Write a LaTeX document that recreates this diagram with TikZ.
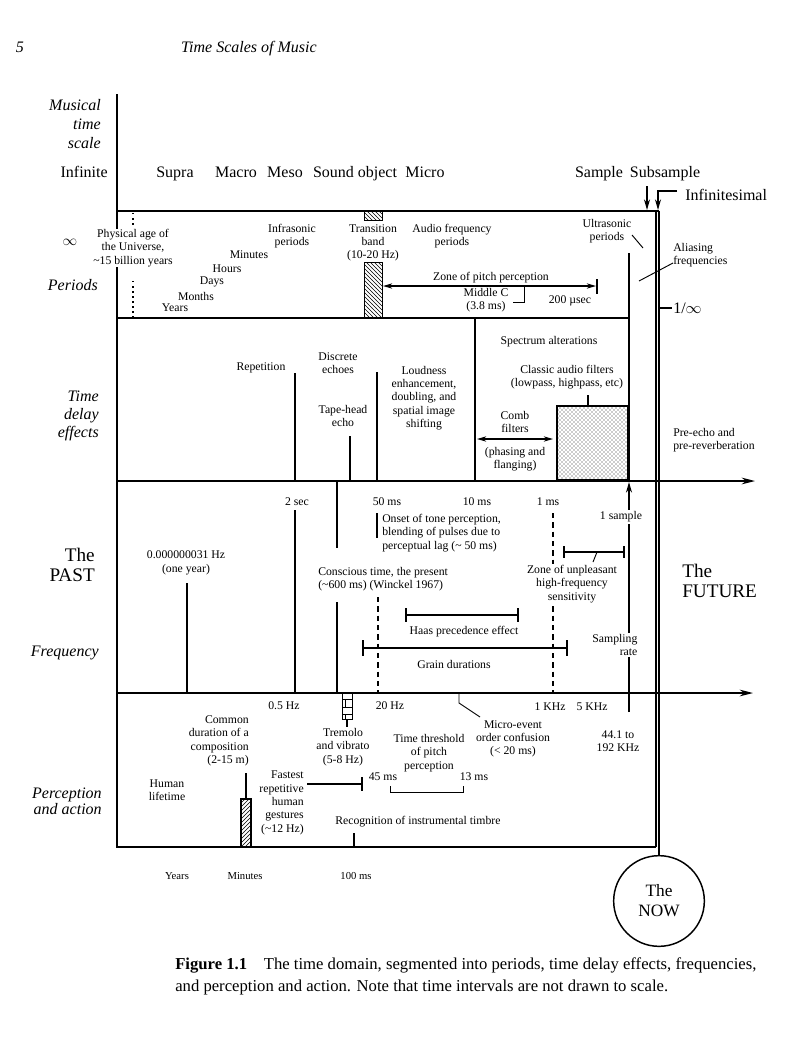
\documentclass[tikz,border=0pt]{standalone}
\usepackage{fontspec}
\setmainfont{Liberation Serif}
\usetikzlibrary{arrows.meta,patterns}
\begin{document}
\begin{tikzpicture}[x=0.75pt,y=-0.75pt,
  t/.style={font=\fontsize{8.8}{10}\selectfont, align=center, inner sep=0pt},
  tw/.style={t, fill=white, inner sep=1pt},
  head/.style={font=\fontsize{12}{14}\selectfont, inner sep=0pt},
  hb/.style={head, anchor=base},
  rowl/.style={font=\fontsize{12}{13.9}\selectfont\itshape, align=right, anchor=east, inner sep=0pt},
  bigl/.style={font=\fontsize{14.4}{15}\selectfont, inner sep=0pt},
  frame/.style={line width=1.1pt},
  mk/.style={line width=0.9pt},
  lead/.style={line width=0.7pt},
  tip/.style={-{Stealth[length=8pt,width=4.5pt]}},
  axis/.style={line width=1.1pt, -{Stealth[length=10pt,width=5pt]}},
  dsh/.style={line width=0.9pt, dash pattern=on 4pt off 3pt},
  dots/.style={line width=1.1pt, dash pattern=on 1.1pt off 2.7pt}
]
\useasboundingbox (0,0) rectangle (800,1060);
\fill[white] (0,0) rectangle (800,1060);

% ---------- header ----------
\node[hb, font=\fontsize{12}{14}\selectfont\itshape] (pg) at (20,52) {5};
\node[hb, font=\fontsize{12}{14}\selectfont\itshape] (title) at (249,52) {Time Scales of Music};

% ---------- frame ----------
\coordinate (top) at (117,94);
\coordinate (bl) at (117,847);
\draw[frame] (top) -- (bl) -- (656,847);
\draw[frame] (117,211) -- (659,211);
\draw[frame] (656,211) -- (656,847);
\draw[frame] (117,318) -- (629,318);
\draw[frame] (629,253) -- (629,480);
\draw[frame] (475,318) -- (475,480);
\draw[axis] (117,481) -- (755,481);
\draw[axis] (117,693) -- (753,693);

% ---------- musical time scale ----------
\node[rowl] (mts) at (101,124) {Musical\\time\\scale};
\node[hb, anchor=base east] (inf) at (108,177) {Infinite};
\node[hb] (supra) at (175,177) {Supra};
\node[hb] (macro) at (236,177) {Macro};
\node[hb] (meso) at (285,177) {Meso};
\node[hb] (sobj) at (355,177) {Sound object};
\node[hb] (micro) at (425,177) {Micro};
\node[hb] (sample) at (599,177) {Sample};
\node[hb] (subs) at (665,177) {Subsample};
\node[hb, anchor=base west] (infs) at (685,200) {Infinitesimal};
\coordinate (sa) at (647,186);
\coordinate (sb) at (647,210);
\draw[mk, tip] (sa) -- (sb);
\coordinate (ia) at (658,210);
\coordinate (il) at (677,191);
\draw[mk, tip] (il) -- (658,191) -- (ia);
\node[head, font=\fontsize{11}{12}\selectfont] (infty) at (70,242) {$\infty$};

% ---------- periods ----------
\node[rowl] (per) at (98,285) {Periods};
\draw[dots] (133,213) -- (133,225);
\draw[dots] (133,281) -- (133,318);
\node[t, fill=white] (phys) at (133,248) {Physical age of\\the Universe,\\\textasciitilde15 billion years};
\node[t] (infra) at (292,236) {Infrasonic\\periods};
\node[t] (minutes) at (249,255) {Minutes};
\node[t] (hours) at (227,269) {Hours};
\node[t] (days) at (212,282) {Days};
\node[t] (months) at (196,296) {Months};
\node[t] (years) at (175,308) {Years};
\draw[line width=0.6pt, pattern=north west lines] (364,211) rectangle (382,220);
\draw[line width=0.6pt, pattern=north west lines] (364,262) rectangle (382,318);
\node[t] (trans) at (373,243) {Transition\\band\\(10-20 Hz)};
\node[t] (audio) at (452,236) {Audio frequency\\periods};
\node[t] (ultra) at (607,231) {Ultrasonic\\periods};
\draw[lead] (632,235) -- (643,248);
\node[t, anchor=west, align=left] (alias) at (673,255) {Aliasing\\frequencies};
\coordinate (al) at (639,281);
\draw[lead] (al) -- (alias.west |- 0,263);
\draw[mk] (659,308) -- (672,308);
\node[head, anchor=west] (oneinf) at (673,308) {1/$\infty$};
\node[t] (zone) at (491,278) {Zone of pitch perception};
\draw[mk, {Stealth[length=7pt,width=4pt]}-{Stealth[length=7pt,width=4pt]}] (383,286) -- (596,286);
\draw[mk] (597,279) -- (597,294);
\node[t] (midc) at (486,300) {Middle C\\(3.8 ms)};
\draw[lead] (513,302) -- (524,302) -- (524,287);
\node[t] (usec) at (570,301) {200 µsec};

% ---------- time delay effects ----------
\node[rowl, font=\fontsize{12}{13.5}\selectfont\itshape] (tde) at (99,416) {Time\\delay\\effects};
\node[t] (rep) at (261,368) {Repetition};
\draw[mk] (295,373) -- (295,480);
\node[t] (disc) at (338,363) {Discrete\\echoes};
\draw[mk] (377,372) -- (377,480);
\node[t] (tape) at (343,416) {Tape-head\\echo};
\draw[mk] (350,436) -- (350,480);
\node[t] (loud) at (424,398) {Loudness\\enhancement,\\doubling, and\\spatial image\\shifting};
\node[t] (spec) at (549,342) {Spectrum alterations};
\node[t] (classic) at (567,377) {Classic audio filters\\(lowpass, highpass, etc)};
\draw[mk] (588,395) -- (588,406);
\draw[line width=0.8pt, pattern=crosshatch dots, pattern color=black!85] (557,406) rectangle (628,480);
\node[t] (comb) at (515,422) {Comb\\filters};
\draw[mk, {Stealth[length=7pt,width=4pt]}-{Stealth[length=7pt,width=4pt]}] (477,439) -- (553,439);
\node[t] (phas) at (515,459) {(phasing and\\flanging)};
\node[t, anchor=west, align=left] (pre) at (673,440) {Pre-echo and\\pre-reverberation};

% ---------- frequency ----------
\node[bigl, anchor=east, align=right] (past) at (95,565) {The\\PAST};
\node[bigl, anchor=west, align=left] (future) at (682,581) {The\\FUTURE};
\node[rowl] (freq) at (99,653) {Frequency};
\node[t] (twosec) at (297,502) {2 sec};
\draw[mk] (295,510) -- (295,693);
\node[t] (oneyr) at (186,563) {0.000000031 Hz\\(one year)};
\draw[mk] (187,583) -- (187,693);
\node[t, anchor=west, align=left] (consc) at (318,579) {Conscious time, the present\\(\textasciitilde600 ms) (Winckel 1967)};
\draw[mk] (337,481) -- (337,548);
\draw[mk] (337,602) -- (337,693);
\node[t] (fifty) at (387,502) {50 ms};
\draw[mk] (377,513) -- (377,538);
\node[t, anchor=west, align=left] (onset) at (382,533) {Onset of tone perception,\\blending of pulses due to\\perceptual lag (\textasciitilde{} 50 ms)};
\draw[dsh] (378,597) -- (378,693);
\node[t] (tenms) at (477,502) {10 ms};
\node[t] (onems) at (548,502) {1 ms};
\draw[dsh] (553,513) -- (553,693);
\node[tw] (unpl) at (572,584) {Zone of unpleasant\\high-frequency\\sensitivity};
\draw[mk] (564,552) -- (624,552);
\draw[mk] (564,546) -- (564,558);
\draw[mk] (624,546) -- (624,558);
\draw[lead] (597,552) -- (593,562);
\draw[mk] (406,615) -- (518,615);
\draw[mk] (406,608) -- (406,622);
\draw[mk] (518,608) -- (518,622);
\node[t] (haas) at (464,632) {Haas precedence effect};
\draw[mk] (363,648) -- (567,648);
\draw[mk] (363,640) -- (363,656);
\draw[mk] (567,640) -- (567,656);
\node[t] (grain) at (454,664) {Grain durations};
\draw[mk, tip] (629,712) -- (629,482);
\node[tw] (onesamp) at (621,517) {1 sample};
\node[tw, anchor=east, align=right] (samp) at (639,645) {Sampling\\rate};

% ---------- perception and action ----------
\node[rowl, font=\fontsize{12}{12}\selectfont\itshape] (pa) at (102,801) {Perception\\and action};
\node[t] (halfhz) at (284,706) {0.5 Hz};
\node[t] (twentyhz) at (390,706) {20 Hz};
\node[t] (khz) at (550,707) {1 KHz};
\node[t] (fivekhz) at (592,707) {5 KHz};
\node[t] (micev) at (513,739) {Micro-event\\order confusion\\(< 20 ms)};
\draw[lead] (459,693) -- (459,703) -- (480,717);
\node[t] (thr) at (429,753) {Time threshold\\of pitch\\perception};
\node[t] (ffms) at (383,777) {45 ms};
\node[t] (thms) at (474,777) {13 ms};
\draw[lead] (390,786) -- (390,792) -- (463,792) -- (463,786);
\draw[line width=0.6pt, pattern=bricks] (342,693) rectangle (352,719);
\draw[mk] (347,719) -- (347,727);
\node[t] (trem) at (343,747) {Tremolo\\and vibrato\\(5-8 Hz)};
\node[t, anchor=east, align=right] (common) at (249,741) {Common\\duration of a\\composition\\(2-15 m)};
\draw[mk] (246,773) -- (246,799);
\draw[line width=0.8pt, pattern=north east lines] (241,799) rectangle (251,847);
\node[t] (human) at (167,790) {Human\\lifetime};
\node[t, anchor=east, align=right] (fast) at (304,803) {Fastest\\repetitive\\human\\gestures\\(\textasciitilde12 Hz)};
\draw[mk] (307,784) -- (362,784);
\draw[mk] (362,777) -- (362,791);
\node[t] (khz44) at (618,741) {44.1 to\\192 KHz};
\node[t, anchor=west] (recog) at (335,822) {Recognition of instrumental timbre};
\draw[mk] (354,833) -- (354,847);

% ---------- bottom ----------
\node[t, font=\fontsize{8}{9}\selectfont] (byears) at (177,876) {Years};
\node[t, font=\fontsize{8}{9}\selectfont] (bmin) at (245,876) {Minutes};
\node[t, font=\fontsize{8}{9}\selectfont] (bms) at (356,876) {100 ms};
\node[draw, circle, line width=1.1pt, minimum size=68, inner sep=0pt, align=center,
  font=\fontsize{13}{15}\selectfont] (now) at (659,901) {The\\NOW};
\draw[frame] (659,211) -- (now.north);

% ---------- caption ----------
\node[anchor=west, align=left, inner sep=0pt,
  font=\fontsize{12.5}{16.5}\selectfont] (cap) at (175,976)
  {\textbf{Figure 1.1}\quad The time domain, segmented into periods, time delay effects, frequencies,\\
   and perception and action. Note that time intervals are not drawn to scale.};
\end{tikzpicture}
\end{document}
